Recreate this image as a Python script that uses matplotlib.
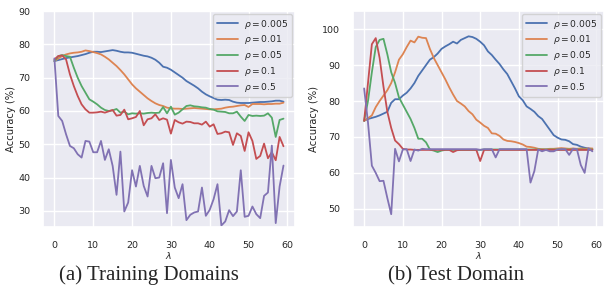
import numpy as np
import matplotlib
matplotlib.use("Agg")
import matplotlib.pyplot as plt
import seaborn as sns

lam = np.arange(60)
rhos = ["0.005", "0.01", "0.05", "0.1", "0.5"]

# training domains
train_005 = [75.0, 75.3, 75.6, 75.9, 76.1, 76.3, 76.5, 76.8, 77.1, 77.5, 77.8, 77.8, 77.7, 77.9, 78.1, 78.3,
             78.1, 77.8, 77.6, 77.6, 77.5, 77.2, 76.9, 76.6, 76.4, 76.0, 75.4, 74.5, 73.3, 73.0,
             72.4, 71.6, 70.8, 70.0, 69.0, 68.3, 67.6, 66.8, 65.8, 65.0, 64.4, 63.9, 63.4, 63.3, 63.4,
             63.3, 62.8, 62.5, 62.4, 62.4, 62.4, 62.5, 62.6, 62.7, 62.7, 62.8, 62.9, 63.1, 63.1, 62.8]
train_01 = [75.0, 75.8, 76.5, 77.0, 77.3, 77.5, 77.6, 77.8, 78.2, 78.0, 77.7, 77.4, 77.0, 76.3, 75.5, 74.5,
            73.5, 72.3, 71.0, 69.5, 68.0, 66.8, 65.8, 64.8, 63.8, 63.0, 62.3, 61.8, 61.5, 61.0,
            60.8, 60.7, 60.7, 60.6, 60.7, 60.8, 60.9, 60.8, 60.7, 60.6, 60.5, 60.5, 60.6, 60.7, 61.0,
            61.2, 61.3, 61.5, 61.7, 61.8, 61.2, 62.1, 62.1, 62.1, 62.0, 62.1, 62.1, 62.2, 62.2, 62.5]
train_05 = [75.0, 76.5, 76.8, 76.5, 76.3, 73.0, 70.0, 67.5, 65.5, 63.5, 62.8, 62.0, 61.0, 60.3, 60.0, 60.2,
            60.6, 59.5, 59.8, 59.0, 59.3, 59.2, 59.3, 59.2, 59.4, 59.5, 59.4, 59.5, 61.2, 59.3,
            61.3, 58.9, 59.5, 60.5, 61.5, 61.7, 61.4, 61.3, 61.1, 61.0, 60.6, 60.4, 59.9, 59.8, 59.7,
            59.3, 59.3, 59.8, 58.3, 57.0, 58.8, 58.5, 58.6, 58.5, 58.6, 59.3, 58.0, 52.2, 57.3, 57.7]
train_1 = [75.5, 76.5, 76.7, 75.5, 71.0, 67.5, 64.5, 62.0, 60.5, 59.5, 59.5, 59.6, 59.8, 59.5, 59.9, 60.3,
           58.6, 58.8, 60.4, 57.5, 57.8, 58.2, 60.0, 55.7, 57.5, 57.8, 59.0, 57.3, 57.8, 57.4,
           53.2, 57.3, 56.6, 56.2, 56.8, 56.7, 56.3, 56.3, 55.9, 56.8, 55.3, 56.0, 53.1, 53.3, 53.8,
           53.6, 49.8, 53.3, 52.5, 48.0, 53.6, 51.0, 45.6, 46.5, 50.2, 45.8, 47.6, 45.2, 52.2, 49.4]
train_5 = [75.8, 58.5, 57.0, 53.0, 49.5, 48.8, 47.0, 46.0, 51.0, 50.8, 47.6, 47.6, 51.0, 45.3, 48.5, 43.5,
           34.8, 47.8, 29.8, 32.5, 42.2, 37.3, 43.5, 37.5, 34.3, 43.5, 39.8, 40.0, 44.3, 29.3,
           45.3, 37.0, 33.8, 38.0, 27.2, 28.8, 29.5, 29.8, 37.0, 28.5, 30.3, 33.5, 38.0, 25.6, 26.8,
           30.2, 28.4, 29.8, 42.2, 28.2, 28.5, 31.3, 29.0, 27.8, 34.5, 35.5, 49.6, 26.3, 37.3, 43.6]

# test domain
test_005 = [74.5, 75.0, 75.3, 75.6, 76.0, 76.5, 77.0, 79.5, 80.5, 80.5, 81.5, 82.3, 83.5, 85.0, 87.0, 88.5,
            90.0, 91.5, 92.2, 93.2, 94.5, 95.2, 95.8, 96.5, 96.0, 97.0, 97.5, 98.0, 97.8, 97.3,
            96.5, 95.5, 93.8, 92.8, 91.5, 90.3, 88.8, 87.5, 85.5, 83.5, 81.3, 80.2, 78.5, 77.8, 77.0,
            75.8, 75.0, 73.5, 72.0, 70.5, 69.8, 69.3, 69.2, 68.8, 68.0, 67.8, 67.3, 67.0, 66.8, 66.6]
test_01 = [74.5, 75.2, 76.0, 78.3, 80.0, 81.5, 83.0, 85.0, 88.0, 91.5, 93.0, 95.0, 96.8, 96.3, 97.9, 97.6,
           97.5, 94.5, 92.0, 90.0, 88.0, 86.0, 83.8, 81.8, 80.0, 79.3, 78.5, 77.2, 76.3, 74.8,
           74.0, 73.1, 72.5, 71.0, 70.9, 70.3, 69.3, 68.9, 68.8, 68.6, 68.3, 67.9, 67.3, 67.2, 67.0,
           66.7, 66.6, 66.6, 66.7, 66.7, 66.8, 66.9, 66.8, 66.7, 66.8, 66.7, 66.8, 66.7, 66.8, 66.8]
test_05 = [74.5, 80.0, 88.0, 95.0, 97.0, 97.3, 93.0, 88.0, 85.0, 81.0, 79.0, 77.0, 75.0, 72.5, 69.5, 69.5,
           68.5, 66.5, 66.2, 65.8, 66.2, 66.4, 66.4, 66.4, 66.4, 66.4, 66.4, 66.4, 66.4, 66.4,
           66.4, 66.5, 66.5, 66.5, 66.5, 66.5, 66.5, 66.5, 66.5, 66.5, 66.5, 66.5, 66.5, 66.5, 66.5,
           66.5, 66.5, 66.5, 66.5, 66.5, 66.5, 66.5, 66.5, 66.5, 66.5, 66.5, 66.5, 66.5, 66.5, 66.5]
test_1 = [74.5, 85.0, 95.8, 97.5, 92.0, 84.0, 77.0, 72.5, 69.0, 68.0, 66.7, 66.5, 66.5, 66.4, 66.4, 66.4,
          66.4, 66.4, 66.4, 66.4, 66.4, 66.4, 66.4, 65.8, 66.3, 66.4, 66.4, 66.4, 66.4, 66.4,
          63.3, 66.4, 66.4, 66.4, 66.4, 66.4, 66.4, 66.4, 66.4, 66.4, 66.4, 66.4, 66.4, 66.4, 66.4,
          66.4, 66.4, 66.4, 66.4, 66.4, 66.4, 66.4, 66.4, 66.4, 66.4, 66.4, 66.4, 66.4, 66.4, 66.4]
test_5 = [83.5, 74.0, 62.0, 60.0, 57.7, 57.8, 53.0, 48.5, 66.7, 63.2, 66.5, 66.6, 63.3, 66.5, 66.2, 66.7,
          66.6, 66.6, 66.6, 66.6, 66.6, 66.6, 66.6, 66.6, 66.6, 66.6, 66.6, 66.6, 66.6, 66.6,
          66.4, 66.6, 66.6, 66.6, 64.3, 66.6, 66.6, 66.6, 66.6, 66.6, 66.6, 66.6, 66.6, 57.3, 60.5,
          66.5, 66.0, 66.4, 66.0, 66.0, 66.5, 66.6, 66.6, 65.0, 66.7, 66.6, 62.2, 60.0, 66.8, 66.0]

train = [train_005, train_01, train_05, train_1, train_5]
test = [test_005, test_01, test_05, test_1, test_5]

sns.set_theme(style="darkgrid", palette="deep")
plt.rcParams['font.family'] = ['DejaVu Sans']

fig = plt.figure(figsize=(6.05, 2.86), dpi=100)
ax1 = fig.add_axes([0.071, 0.207, 0.4165, 0.754])
ax2 = fig.add_axes([0.583, 0.207, 0.415, 0.754])

for ax, series in [(ax1, train), (ax2, test)]:
    for r, y in zip(rhos, series):
        ax.plot(lam, y, lw=1.3, label=r"$\rho=$" + r"$" + r + "$")
    ax.set_xlabel(r"$\lambda$", fontsize=6.8, labelpad=0)
    ax.set_ylabel("Accuracy (%)", fontsize=7.2, labelpad=2)
    ax.tick_params(axis="x", labelsize=6.8, pad=4)
    ax.tick_params(axis="y", labelsize=6.8, pad=3)
    ax.set_xticks([0, 10, 20, 30, 40, 50, 60])
    ax.legend(loc="upper right", fontsize=6.6, handlelength=2.3, borderaxespad=0.3,
              labelspacing=0.3, handletextpad=0.7)

ax1.set_ylim(25.2, 90)
ax1.set_yticks([30, 40, 50, 60, 70, 80, 90])
ax2.set_ylim(45, 105)
ax2.set_yticks([50, 60, 70, 80, 90, 100])

fig.text(0.246, 0.037, "(a) Training Domains", ha="center", va="center",
         family="Liberation Serif", fontsize=15)
fig.text(0.754, 0.037, "(b) Test Domain", ha="center", va="center",
         family="Liberation Serif", fontsize=15)

fig.savefig("out.png", dpi=100)
